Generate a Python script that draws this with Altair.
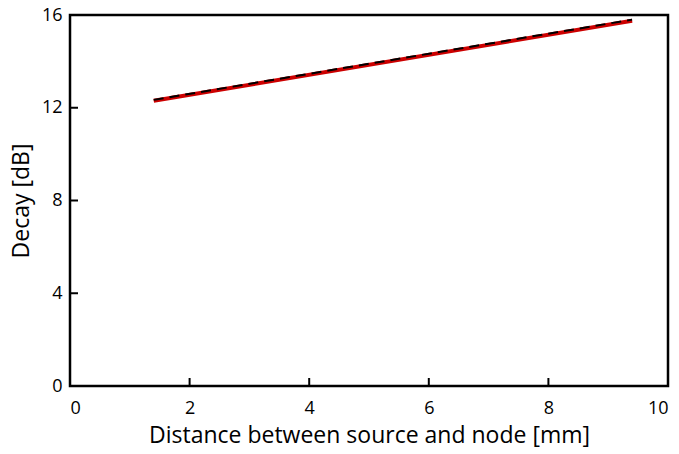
import altair as alt
import pandas as pd

dist_red = [1.4, 9.4]
decay_red = [12.3, 15.75]
dist_black = [1.4, 9.4]
decay_black = [12.34, 15.8]
x_ticks = [0, 2, 4, 6, 8, 10]
y_ticks = [0, 4, 8, 12, 16]

red = pd.DataFrame({"d": dist_red, "v": decay_red})
black = pd.DataFrame({"d": dist_black, "v": decay_black})
xt = pd.DataFrame({"t": x_ticks[1:-1]})
yt = pd.DataFrame({"t": y_ticks[1:-1]})

FONT = "Open Sans"
xs = alt.Scale(domain=[0, 10], nice=False)
ys = alt.Scale(domain=[0, 16], nice=False)

xaxis = alt.Axis(values=x_ticks, format="d", title="Distance between source and node [mm]", grid=False,
                 ticks=False, domain=False, labelFontSize=18, titleFontSize=23,
                 labelPadding=13, titlePadding=7, labelColor="black", titleColor="black",
                 labelFont=FONT, titleFont=FONT, titleFontWeight="normal")
yaxis = alt.Axis(values=y_ticks, format="d", title="Decay [dB]", grid=False, ticks=False, domain=False,
                 labelFontSize=18, titleFontSize=23, labelPadding=8, titlePadding=8,
                 labelColor="black", titleColor="black", labelFont=FONT, titleFont=FONT,
                 titleFontWeight="normal")

red_line = alt.Chart(red).mark_line(color="#cc0000", strokeWidth=4).encode(
    x=alt.X("d:Q", scale=xs, axis=xaxis), y=alt.Y("v:Q", scale=ys, axis=yaxis))
black_line = alt.Chart(black).mark_line(color="black", strokeWidth=2, strokeDash=[10, 6]).encode(
    x=alt.X("d:Q", scale=xs), y=alt.Y("v:Q", scale=ys))
xtick = alt.Chart(xt).mark_rule(color="black", strokeWidth=2).encode(
    x=alt.X("t:Q", scale=xs), y=alt.value(371), y2=alt.value(363))
ytick = alt.Chart(yt).mark_rule(color="black", strokeWidth=2).encode(
    y=alt.Y("t:Q", scale=ys), x=alt.value(0), x2=alt.value(8))

chart = alt.layer(red_line, black_line, xtick, ytick).properties(
    width=598, height=371,
    autosize=alt.AutoSizeParams(type="none"),
    padding={"left": 70, "top": 15, "right": 11, "bottom": 68},
).configure(background="white").configure_view(stroke="black", strokeWidth=2.5, strokeOpacity=1)

chart.save("out.html", embed_options={"renderer": "svg", "actions": False})
